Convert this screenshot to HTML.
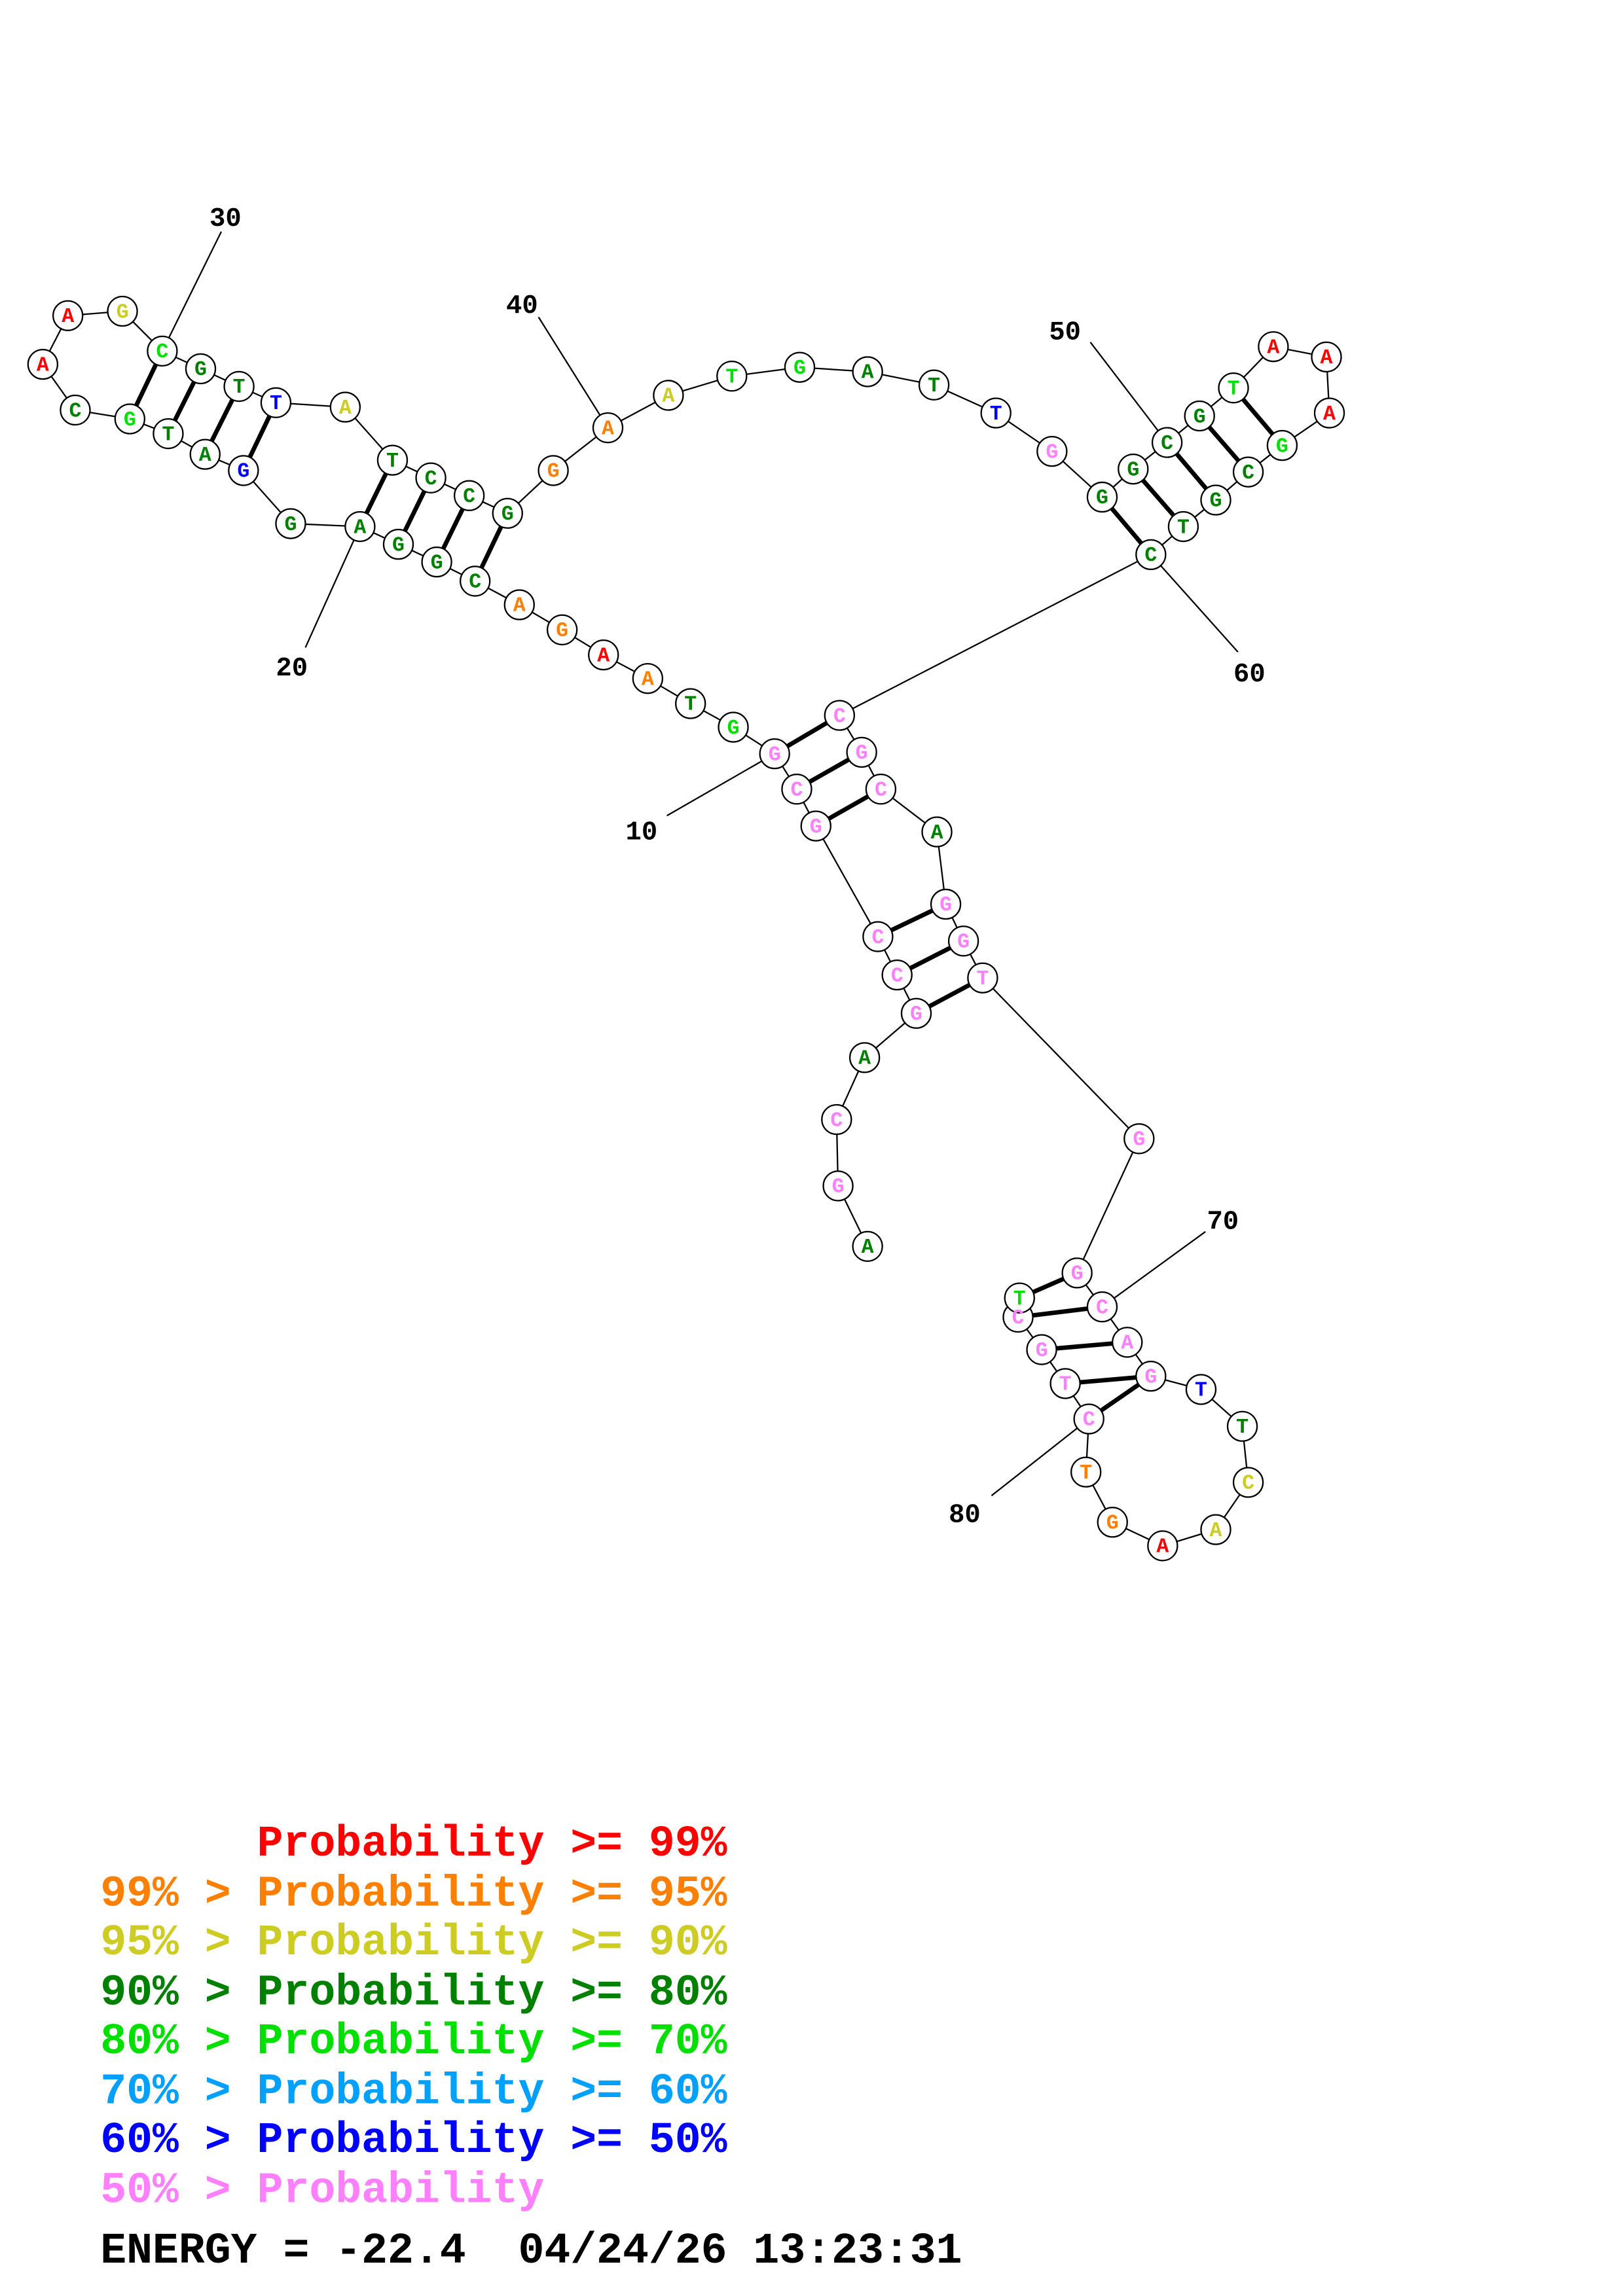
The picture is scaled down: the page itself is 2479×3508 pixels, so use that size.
<!DOCTYPE html>
<html><head><meta charset="utf-8"><style>html,body{margin:0;padding:0;background:#fff}svg{display:block}.pre{white-space:pre}</style></head>
<body>
<svg xmlns="http://www.w3.org/2000/svg" width="2479" height="3508" viewBox="0 0 1100 1556.6" preserveAspectRatio="none">
<rect width="1100" height="1557" fill="#fff"/>
<g transform="translate(-3,-3)">
<g id="bb" stroke="#000" stroke-width="1" fill="none">
<polyline points="591,848 571,807 570,762 589,720 624,690 611,664 598,638 556,563 543,538 528,514 500,496 471,480 442,463 412,447 384,430 355,413 325,397 299,384 273,372 247,360 200,358 168,322 142,311 117,297 91,287 54,281 32,250 49,217 86,214 113,241 139,253 165,265 190,276 237,279 269,315 295,327 321,339 347,351 378,322 415,293 456,271 499,258 545,252 591,255 636,264 678,283 716,309 750,340 771,321 794,303 816,285 839,266 866,238 902,245 904,283 872,305 849,323 827,342 805,360 783,379 572,488 587,513 600,538 638,567 644,616 656,641 669,666 775,775 733,866 750,889 767,913 783,936 817,945 845,970 849,1008 827,1040 791,1051 757,1035 739,1001 741,965 725,941 709,918 693,896 694,883"/>
<line x1="113" y1="241" x2="153" y2="160"/>
<line x1="415" y1="293" x2="368" y2="218"/>
<line x1="794" y1="303" x2="742" y2="235"/>
<line x1="783" y1="379" x2="842" y2="445"/>
<line x1="247" y1="360" x2="210" y2="442"/>
<line x1="528" y1="514" x2="455" y2="556"/>
<line x1="750" y1="889" x2="820" y2="838"/>
<line x1="741" y1="965" x2="675" y2="1017"/>
</g>
<g stroke="#000" stroke-width="3">
<line x1="528" y1="514" x2="572" y2="488"/><line x1="543" y1="538" x2="587" y2="513"/><line x1="556" y1="563" x2="600" y2="538"/>
<line x1="598" y1="638" x2="644" y2="616"/><line x1="611" y1="664" x2="656" y2="641"/><line x1="624" y1="690" x2="669" y2="666"/>
<line x1="325" y1="397" x2="347" y2="351"/><line x1="299" y1="384" x2="321" y2="339"/><line x1="273" y1="372" x2="295" y2="327"/><line x1="247" y1="360" x2="269" y2="315"/>
<line x1="168" y1="322" x2="190" y2="276"/><line x1="142" y1="311" x2="165" y2="265"/><line x1="117" y1="297" x2="139" y2="253"/><line x1="91" y1="287" x2="113" y2="241"/>
<line x1="750" y1="340" x2="783" y2="379"/><line x1="771" y1="321" x2="805" y2="360"/><line x1="794" y1="303" x2="827" y2="342"/><line x1="816" y1="285" x2="849" y2="323"/><line x1="839" y1="266" x2="872" y2="305"/>
<line x1="694" y1="883" x2="733" y2="866"/><line x1="693" y1="896" x2="750" y2="889"/><line x1="709" y1="918" x2="767" y2="913"/><line x1="725" y1="941" x2="783" y2="936"/><line x1="741" y1="965" x2="783" y2="936"/>
</g>
<g font-family="Liberation Mono, monospace" font-weight="bold" font-size="14" text-anchor="middle" stroke="#000" stroke-width="1">
<g fill="#fff">
<circle cx="591" cy="848" r="10"/><circle cx="571" cy="807" r="10"/><circle cx="570" cy="762" r="10"/><circle cx="589" cy="720" r="10"/><circle cx="624" cy="690" r="10"/><circle cx="611" cy="664" r="10"/><circle cx="598" cy="638" r="10"/><circle cx="556" cy="563" r="10"/><circle cx="543" cy="538" r="10"/><circle cx="528" cy="514" r="10"/><circle cx="500" cy="496" r="10"/><circle cx="471" cy="480" r="10"/><circle cx="442" cy="463" r="10"/><circle cx="412" cy="447" r="10"/><circle cx="384" cy="430" r="10"/><circle cx="355" cy="413" r="10"/><circle cx="325" cy="397" r="10"/><circle cx="299" cy="384" r="10"/><circle cx="273" cy="372" r="10"/><circle cx="247" cy="360" r="10"/><circle cx="200" cy="358" r="10"/><circle cx="168" cy="322" r="10"/><circle cx="142" cy="311" r="10"/><circle cx="117" cy="297" r="10"/><circle cx="91" cy="287" r="10"/><circle cx="54" cy="281" r="10"/><circle cx="32" cy="250" r="10"/><circle cx="49" cy="217" r="10"/><circle cx="86" cy="214" r="10"/><circle cx="113" cy="241" r="10"/><circle cx="139" cy="253" r="10"/><circle cx="165" cy="265" r="10"/><circle cx="190" cy="276" r="10"/><circle cx="237" cy="279" r="10"/><circle cx="269" cy="315" r="10"/><circle cx="295" cy="327" r="10"/><circle cx="321" cy="339" r="10"/><circle cx="347" cy="351" r="10"/><circle cx="378" cy="322" r="10"/><circle cx="415" cy="293" r="10"/><circle cx="456" cy="271" r="10"/><circle cx="499" cy="258" r="10"/><circle cx="545" cy="252" r="10"/><circle cx="591" cy="255" r="10"/><circle cx="636" cy="264" r="10"/><circle cx="678" cy="283" r="10"/><circle cx="716" cy="309" r="10"/><circle cx="750" cy="340" r="10"/><circle cx="771" cy="321" r="10"/><circle cx="794" cy="303" r="10"/><circle cx="816" cy="285" r="10"/><circle cx="839" cy="266" r="10"/><circle cx="866" cy="238" r="10"/><circle cx="902" cy="245" r="10"/><circle cx="904" cy="283" r="10"/><circle cx="872" cy="305" r="10"/><circle cx="849" cy="323" r="10"/><circle cx="827" cy="342" r="10"/><circle cx="805" cy="360" r="10"/><circle cx="783" cy="379" r="10"/><circle cx="572" cy="488" r="10"/><circle cx="587" cy="513" r="10"/><circle cx="600" cy="538" r="10"/><circle cx="638" cy="567" r="10"/><circle cx="644" cy="616" r="10"/><circle cx="656" cy="641" r="10"/><circle cx="669" cy="666" r="10"/><circle cx="775" cy="775" r="10"/><circle cx="733" cy="866" r="10"/><circle cx="750" cy="889" r="10"/><circle cx="767" cy="913" r="10"/><circle cx="783" cy="936" r="10"/><circle cx="817" cy="945" r="10"/><circle cx="845" cy="970" r="10"/><circle cx="849" cy="1008" r="10"/><circle cx="827" cy="1040" r="10"/><circle cx="791" cy="1051" r="10"/><circle cx="757" cy="1035" r="10"/><circle cx="739" cy="1001" r="10"/><circle cx="741" cy="965" r="10"/><circle cx="725" cy="941" r="10"/><circle cx="709" cy="918" r="10"/><circle cx="693" cy="896" r="10"/><circle cx="694" cy="883" r="10"/>
</g>
<g stroke="none" dominant-baseline="central">
<text x="591" y="849" fill="#008000">A</text><text x="571" y="808" fill="#ff80ff">G</text><text x="570" y="763" fill="#ff80ff">C</text><text x="589" y="721" fill="#008000">A</text><text x="624" y="691" fill="#ff80ff">G</text><text x="611" y="665" fill="#ff80ff">C</text><text x="598" y="639" fill="#ff80ff">C</text><text x="556" y="564" fill="#ff80ff">G</text><text x="543" y="539" fill="#ff80ff">C</text><text x="528" y="515" fill="#ff80ff">G</text>
<text x="500" y="497" fill="#00e000">G</text><text x="471" y="481" fill="#008000">T</text><text x="442" y="464" fill="#ff8000">A</text><text x="412" y="448" fill="#ff0000">A</text><text x="384" y="431" fill="#ff8000">G</text><text x="355" y="414" fill="#ff8000">A</text><text x="325" y="398" fill="#008000">C</text><text x="299" y="385" fill="#008000">G</text><text x="273" y="373" fill="#008000">G</text><text x="247" y="361" fill="#008000">A</text>
<text x="200" y="359" fill="#008000">G</text><text x="168" y="323" fill="#0000ff">G</text><text x="142" y="312" fill="#008000">A</text><text x="117" y="298" fill="#008000">T</text><text x="91" y="288" fill="#00e000">G</text><text x="54" y="282" fill="#008000">C</text><text x="32" y="251" fill="#ff0000">A</text><text x="49" y="218" fill="#ff0000">A</text><text x="86" y="215" fill="#cccc22">G</text><text x="113" y="242" fill="#00e000">C</text>
<text x="139" y="254" fill="#008000">G</text><text x="165" y="266" fill="#008000">T</text><text x="190" y="277" fill="#0000ff">T</text><text x="237" y="280" fill="#cccc22">A</text><text x="269" y="316" fill="#008000">T</text><text x="295" y="328" fill="#008000">C</text><text x="321" y="340" fill="#008000">C</text><text x="347" y="352" fill="#008000">G</text><text x="378" y="323" fill="#ff8000">G</text><text x="415" y="294" fill="#ff8000">A</text>
<text x="456" y="272" fill="#cccc22">A</text><text x="499" y="259" fill="#00e000">T</text><text x="545" y="253" fill="#00e000">G</text><text x="591" y="256" fill="#008000">A</text><text x="636" y="265" fill="#008000">T</text><text x="678" y="284" fill="#0000ff">T</text><text x="716" y="310" fill="#ff80ff">G</text><text x="750" y="341" fill="#008000">G</text><text x="771" y="322" fill="#008000">G</text><text x="794" y="304" fill="#008000">C</text>
<text x="816" y="286" fill="#008000">G</text><text x="839" y="267" fill="#00e000">T</text><text x="866" y="239" fill="#ff0000">A</text><text x="902" y="246" fill="#ff0000">A</text><text x="904" y="284" fill="#ff0000">A</text><text x="872" y="306" fill="#00e000">G</text><text x="849" y="324" fill="#008000">C</text><text x="827" y="343" fill="#008000">G</text><text x="805" y="361" fill="#008000">T</text><text x="783" y="380" fill="#008000">C</text>
<text x="572" y="489" fill="#ff80ff">C</text><text x="587" y="514" fill="#ff80ff">G</text><text x="600" y="539" fill="#ff80ff">C</text><text x="638" y="568" fill="#008000">A</text><text x="644" y="617" fill="#ff80ff">G</text><text x="656" y="642" fill="#ff80ff">G</text><text x="669" y="667" fill="#ff80ff">T</text><text x="775" y="776" fill="#ff80ff">G</text><text x="733" y="867" fill="#ff80ff">G</text><text x="750" y="890" fill="#ff80ff">C</text>
<text x="767" y="914" fill="#ff80ff">A</text><text x="783" y="937" fill="#ff80ff">G</text><text x="817" y="946" fill="#0000ff">T</text><text x="845" y="971" fill="#008000">T</text><text x="849" y="1009" fill="#cccc22">C</text><text x="827" y="1041" fill="#cccc22">A</text><text x="791" y="1052" fill="#ff0000">A</text><text x="757" y="1036" fill="#ff8000">G</text><text x="739" y="1002" fill="#ff8000">T</text><text x="741" y="966" fill="#ff80ff">C</text>
<text x="725" y="942" fill="#ff80ff">T</text><text x="709" y="919" fill="#ff80ff">G</text><text x="693" y="897" fill="#ff80ff">C</text><text x="694" y="884" fill="#00e000">T</text>
</g>
</g>
<g font-family="Liberation Mono, monospace" font-weight="bold" font-size="18" fill="#000">
<text x="145" y="156">30</text><text x="346" y="215">40</text><text x="714" y="233">50</text><text x="839" y="465">60</text><text x="190" y="461">20</text><text x="427" y="572">10</text><text x="821" y="836">70</text><text x="646" y="1035">80</text>
</g>
</g>
<g font-family="Liberation Mono, monospace" font-weight="bold" font-size="29.5" class="pre">
<text class="pre" x="68" y="1258" fill="#ff0000">      Probability &gt;= 99%</text>
<text x="68" y="1292" fill="#ff8000">99% &gt; Probability &gt;= 95%</text>
<text x="68" y="1325" fill="#cccc22">95% &gt; Probability &gt;= 90%</text>
<text x="68" y="1359" fill="#008000">90% &gt; Probability &gt;= 80%</text>
<text x="68" y="1392" fill="#00e000">80% &gt; Probability &gt;= 70%</text>
<text x="68" y="1426" fill="#00a0ff">70% &gt; Probability &gt;= 60%</text>
<text x="68" y="1459" fill="#0000ff">60% &gt; Probability &gt;= 50%</text>
<text x="68" y="1493" fill="#ff80ff">50% &gt; Probability</text>
<text class="pre" x="68" y="1534" fill="#000">ENERGY = -22.4  04/24/26 13:23:31</text>
</g>
</svg>
</body></html>
